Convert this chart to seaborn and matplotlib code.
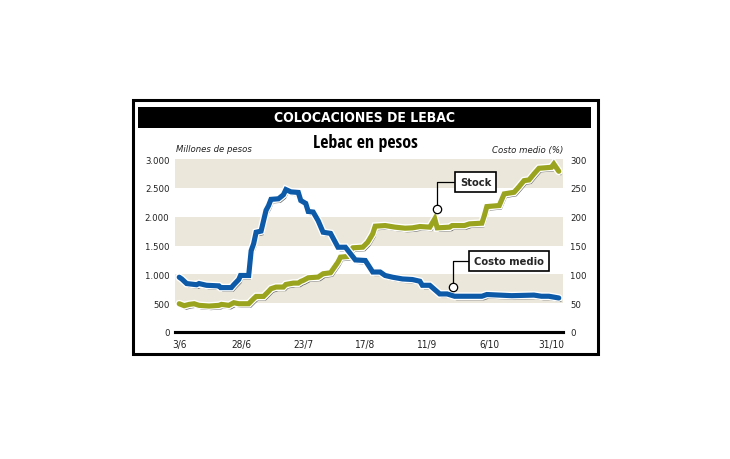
import matplotlib
matplotlib.use("Agg")
import matplotlib.pyplot as plt
import matplotlib.patheffects as pe
from matplotlib.patches import Rectangle
import pandas as pd
import seaborn as sns

# days counted from 3/6
stock_days = [0, 2, 4, 6, 8, 12, 16, 17, 20, 22, 24, 28, 30, 31, 34, 36, 37, 39, 42, 43,
              46, 48, 49, 50, 52, 56, 58, 61, 64, 65, 68, 69, 70, 74, 76, 78, 79, 83, 87,
              91, 94, 97, 101, 103, 104, 109, 110, 115, 117, 122, 123, 124, 129, 131, 135,
              137, 139, 141, 143, 145, 150, 151, 153]
stock = [490, 456, 479, 490, 462, 450, 462, 479, 462, 508, 490, 490, 577, 617, 617, 704,
         750, 779, 779, 825, 848, 848, 877, 894, 940, 952, 1010, 1027, 1212, 1298, 1310,
         1414, 1460, 1471, 1558, 1702, 1835, 1846, 1818, 1800, 1806, 1829, 1818, 1962,
         1806, 1818, 1846, 1846, 1875, 1887, 2020, 2175, 2193, 2395, 2423, 2521, 2625,
         2637, 2741, 2839, 2856, 2914, 2787]

costo_days = [0, 1, 3, 7, 8, 11, 16, 16.7, 21, 22, 24, 24.7, 28, 29, 30, 31, 33, 35, 36, 37,
              40, 42, 43, 45, 48, 49, 51, 52, 54, 56, 58, 61, 64, 67, 69, 71, 75, 78, 81,
              83, 86, 90, 94, 97, 98, 101, 105, 108, 111, 122, 124, 134, 143, 146, 149, 153]
costo = [95, 92, 84, 82, 84, 81, 80, 77, 77, 82, 91, 98, 98, 141, 153, 173, 175, 211, 219,
         230, 231, 238, 247, 243, 242, 228, 223, 209, 208, 193, 173, 171, 147, 147, 136,
         125, 124, 104, 104, 98, 95, 92, 91, 88, 81, 81, 66, 66, 62, 62, 65, 63, 64, 62,
         62, 59]

tick_days = [0, 25, 50, 75, 100, 125, 150]
tick_labels = ["3/6", "28/6", "23/7", "17/8", "11/9", "6/10", "31/10"]
left_ticks = [0, 500, 1000, 1500, 2000, 2500, 3000]
left_labels = ["0", "500", "1.000", "1.500", "2.000", "2.500", "3.000"]
right_ticks = [0, 50, 100, 150, 200, 250, 300]

df_stock = pd.DataFrame({"dia": stock_days, "valor": stock})
df_costo = pd.DataFrame({"dia": costo_days, "valor": costo})

sns.set_style("white")
plt.rcParams["font.family"] = ["DejaVu Sans"]
plt.rcParams["font.stretch"] = "condensed"

BLUE = "#0c5aa8"
GREEN = "#9aa41e"
BAND = "#ebe7da"
TXT = "#222222"

W, H = 730, 460
fig = plt.figure(figsize=(7.3, 4.6), dpi=100)

# outer frame and title bar
fig.patches.append(Rectangle((133 / W, 1 - 355 / H), (598 - 133) / W, (355 - 101) / H,
                             transform=fig.transFigure, fill=False, ec="black", lw=2.2))
fig.patches.append(Rectangle((138 / W, 1 - 129 / H), (591 - 138) / W, (129 - 108) / H,
                             transform=fig.transFigure, fc="black", ec="none"))
fig.text(365 / W, 1 - 118.5 / H, "COLOCACIONES DE LEBAC", color="white",
         fontsize=10, fontweight="bold", ha="center", va="center")
fig.text(365 / W, 1 - 143 / H, "Lebac en pesos", color="black",
         fontsize=13, fontweight="bold", ha="center", va="center",
         family=["Open Sans Condensed", "DejaVu Sans"])
fig.text(176 / W, 1 - 150 / H, "Millones de pesos", fontsize=6.8, style="italic",
         ha="left", va="center", color=TXT)
fig.text(563 / W, 1 - 150 / H, "Costo medio (%)", fontsize=6.8, style="italic",
         ha="right", va="center", color=TXT)

ax = fig.add_axes([175 / W, 1 - 333 / H, (563 - 175) / W, (333 - 160) / H])
ax2 = ax.twinx()

for lo in (500, 1500, 2500):
    ax.axhspan(lo, lo + 500, color=BAND, lw=0, zorder=0)


def effects():
    return [pe.SimpleLineShadow(offset=(1.5, -2.5), shadow_color="#666666", alpha=1,
                                linewidth=0.9),
            pe.Stroke(linewidth=5.6, foreground="white"),
            pe.Normal()]


sns.lineplot(data=df_stock, x="dia", y="valor", ax=ax, color=GREEN, lw=3.7,
             estimator=None, sort=False, zorder=3)
sns.lineplot(data=df_costo, x="dia", y="valor", ax=ax2, color=BLUE, lw=3.7,
             estimator=None, sort=False, zorder=3)
for line in (ax.lines[-1], ax2.lines[-1]):
    line.set_path_effects(effects())
    line.set_solid_joinstyle("miter")

ax.set_xlim(-1.7, 154.7)
ax.set_ylim(0, 3000)
ax2.set_ylim(0, 300)
ax.set_xticks(tick_days, tick_labels)
ax.set_yticks(left_ticks, left_labels)
ax2.set_yticks(right_ticks, [str(v) for v in right_ticks])
for a in (ax, ax2):
    a.set_xlabel("")
    a.set_ylabel("")
    for s in ("top", "left", "right"):
        a.spines[s].set_visible(False)
    a.spines["bottom"].set_linewidth(2.2)
    a.spines["bottom"].set_color("black")
    a.patch.set_visible(False)
ax.tick_params(axis="both", length=0, labelsize=6.8, colors=TXT)
ax.tick_params(axis="x", pad=5, labelsize=7.2)
ax.tick_params(axis="y", pad=4)
ax2.tick_params(axis="y", length=0, labelsize=6.8, colors=TXT, pad=5)
ax.set_zorder(1)
ax2.set_zorder(2)

# callouts
box = dict(boxstyle="square,pad=0.45", fc="white", ec="black", lw=1.2)
arrow = dict(arrowstyle="-", color="black", lw=0.9, shrinkA=0, shrinkB=3,
             connectionstyle="angle,angleA=0,angleB=90,rad=0")
ax.annotate("Stock", xy=(103.8, 2130), xytext=(119.5, 2600), fontsize=8,
            fontweight="bold", ha="center", va="center", bbox=box, arrowprops=arrow,
            zorder=6)
ax2.annotate("Costo medio", xy=(110.5, 78), xytext=(133, 123), fontsize=8,
             fontweight="bold", ha="center", va="center", bbox=box, arrowprops=arrow,
             zorder=6)
ax.plot([103.8], [2130], marker="o", ms=6, mfc="white", mec="black", mew=0.9,
        zorder=7, clip_on=False)
ax2.plot([110.5], [78], marker="o", ms=6, mfc="white", mec="black", mew=0.9,
         zorder=7, clip_on=False)

fig.savefig("out.png", dpi=100)
